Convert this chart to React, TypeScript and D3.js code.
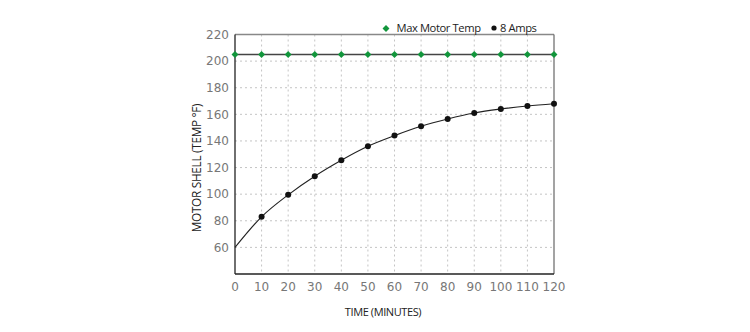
import React from "react";
import * as d3 from "d3";

// Time in minutes and motor shell temperature readings
const minutes = [0, 10, 20, 30, 40, 50, 60, 70, 80, 90, 100, 110, 120];
const eightAmps = [60, 83, 99.5, 113.5, 125.5, 136, 144, 151, 156.5, 161, 164, 166.3, 168];
const maxMotorTemp = [205, 205, 205, 205, 205, 205, 205, 205, 205, 205, 205, 205, 205];
const xTicks = [0, 10, 20, 30, 40, 50, 60, 70, 80, 90, 100, 110, 120];
const yTicks = [60, 80, 100, 120, 140, 160, 180, 200, 220];

const W = 750;
const H = 332;
const left = 235;
const right = 554;
const top = 34.5;
const bottom = 274;

const tickFont = "'DejaVu Sans', Verdana, sans-serif";
const labelFont = "'Open Sans', 'Noto Sans', sans-serif";

export default function App() {
  const x = d3.scaleLinear().domain([0, 120]).range([left, right]);
  const y = d3.scaleLinear().domain([40, 220]).range([bottom, top]);

  const curve = d3
    .line<number>()
    .x((_, i) => x(minutes[i]))
    .y((d) => y(d))
    .curve(d3.curveMonotoneX);

  const flat = d3
    .line<number>()
    .x((_, i) => x(minutes[i]))
    .y((d) => y(d));

  // square diamond marker
  const diamond = d3.symbol().type(d3.symbolSquare).size(24)() as string;

  return (
    <svg
      width={W}
      height={H}
      style={{ position: "absolute", left: 0, top: 0, background: "#fff" }}
    >
      {/* grid */}
      {xTicks.slice(1, -1).map((t) => (
        <line
          key={"gx" + t}
          x1={x(t)}
          x2={x(t)}
          y1={top}
          y2={bottom}
          stroke="#c4c4c4"
          strokeWidth={1}
          strokeDasharray="2,3"
        />
      ))}
      {yTicks.slice(0, -1).map((t) => (
        <line
          key={"gy" + t}
          x1={left}
          x2={right}
          y1={y(t)}
          y2={y(t)}
          stroke="#c4c4c4"
          strokeWidth={1}
          strokeDasharray="2,3"
        />
      ))}

      {/* frame */}
      <line x1={left} x2={right} y1={top} y2={top} stroke="#888" strokeWidth={1.5} />
      <line x1={right} x2={right} y1={top} y2={bottom} stroke="#666" strokeWidth={1.2} />
      <line x1={left} x2={left} y1={top} y2={bottom} stroke="#222" strokeWidth={1.3} />
      <line x1={left} x2={right} y1={bottom} y2={bottom} stroke="#222" strokeWidth={1.3} />

      {/* y tick labels */}
      {yTicks.map((t) => (
        <text
          key={"yt" + t}
          x={229}
          y={y(t)}
          dy="0.35em"
          textAnchor="end"
          fontFamily={tickFont}
          fontSize={12}
          fill="#777"
        >
          {t}
        </text>
      ))}

      {/* x tick labels */}
      {xTicks.map((t) => (
        <text
          key={"xt" + t}
          x={x(t)}
          y={287}
          dy="0.35em"
          textAnchor="middle"
          fontFamily={tickFont}
          fontSize={12}
          fill="#777"
        >
          {t}
        </text>
      ))}

      {/* axis titles */}
      <text
        x={383}
        y={312}
        dy="0.35em"
        textAnchor="middle"
        fontFamily={labelFont}
        fontSize={11}
        fill="#222"
        letterSpacing={-0.4}
      >
        TIME (MINUTES)
      </text>
      <text
        transform={`translate(197,${168}) rotate(-90)`}
        textAnchor="middle"
        dy="0.35em"
        fontFamily={labelFont}
        fontSize={11.8}
        fill="#222"
        letterSpacing={-0.3}
      >
        MOTOR SHELL (TEMP °F)
      </text>

      {/* max motor temp */}
      <path d={flat(maxMotorTemp) as string} fill="none" stroke="#444" strokeWidth={1.6} />
      {maxMotorTemp.map((v, i) => (
        <path
          key={"mm" + i}
          d={diamond}
          transform={`translate(${x(minutes[i])},${y(v)}) rotate(45)`}
          fill="#12963c"
        />
      ))}

      {/* 8 amps */}
      <path d={curve(eightAmps) as string} fill="none" stroke="#222" strokeWidth={1.1} />
      {eightAmps.map((v, i) =>
        i === 0 ? null : (
          <circle key={"ea" + i} cx={x(minutes[i])} cy={y(v)} r={3} fill="#111" />
        )
      )}

      {/* legend */}
      <path d={diamond} transform="translate(386,28.5) rotate(45)" fill="#12963c" />
      <text
        x={396.5}
        y={28.5}
        dy="0.35em"
        fontFamily={labelFont}
        fontSize={11.2}
        fill="#222"
        letterSpacing={-0.4}
      >
        Max Motor Temp
      </text>
      <circle cx={494} cy={28} r={2.6} fill="#111" />
      <text
        x={500}
        y={28.5}
        dy="0.35em"
        fontFamily={labelFont}
        fontSize={11.2}
        fill="#222"
        letterSpacing={-0.4}
      >
        8 Amps
      </text>
    </svg>
  );
}
